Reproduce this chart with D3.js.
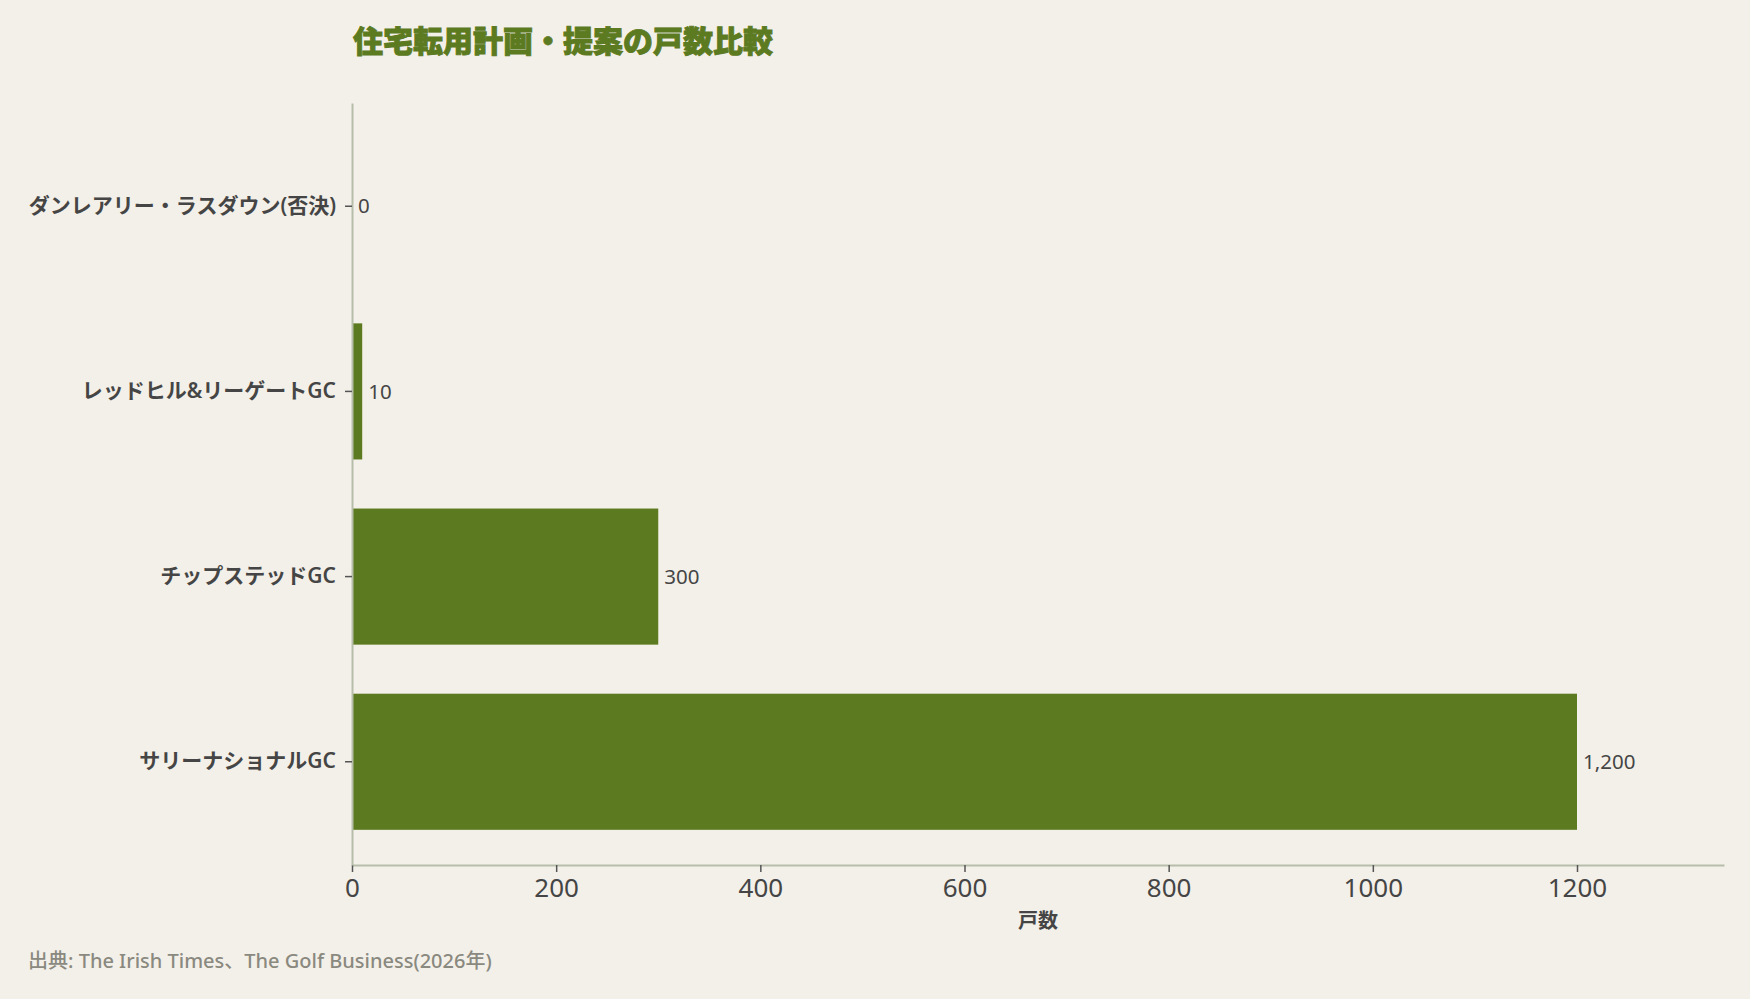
<!DOCTYPE html>
<html>
<head>
<meta charset="utf-8">
<script src="https://cdn.jsdelivr.net/npm/d3@7"></script>
<style>
  html, body { margin: 0; padding: 0; background: #f3f0e9; }
  svg { display: block; font-family: "Noto Sans", "Noto Sans CJK JP", sans-serif; }
</style>
</head>
<body>
<div id="chart"></div>
<script>
// data
const categories = [
    "ダンレアリー・ラスダウン(否決)",
    "レッドヒル&リーゲートGC",
    "チップステッドGC",
    "サリーナショナルGC"
];
const units = [0, 10, 300, 1200];
const xTicks = [0, 200, 400, 600, 800, 1000, 1200];

const titleText = "住宅転用計画・提案の戸数比較";
const xTitle = "戸数";
const sourceText = "出典: The Irish Times、The Golf Business(2026年)";

const data = categories.map((c, i) => ({ name: c, value: units[i] }));

const W = 1750, H = 999;
const margin = { top: 103, right: 26, bottom: 134, left: 352 };
const width = W - margin.left - margin.right;
const height = H - margin.top - margin.bottom;

const green = "#5c7a1f";
const textCol = "#454545";
const axisCol = "#b6bea9";
const fontStack = "\"Noto Sans\", \"Noto Sans CJK JP\", sans-serif";

const svg = d3.select("#chart")
    .append("svg")
    .attr("width", W)
    .attr("height", H);

svg.append("rect")
    .attr("width", W)
    .attr("height", H)
    .attr("fill", "#f3f0e9");

const g = svg.append("g")
    .attr("transform", `translate(${margin.left}, ${margin.top})`);

const x = d3.scaleLinear()
    .domain([0, d3.max(units) * 1.12])
    .range([0, width]);

const y = d3.scaleBand()
    .domain(categories)
    .range([0, height])
    .paddingInner(0.265)
    .paddingOuter(0.19);

// bars
g.selectAll(".bar")
    .data(data)
    .enter()
    .append("rect")
    .attr("class", "bar")
    .attr("x", 0)
    .attr("y", d => y(d.name))
    .attr("width", d => x(d.value))
    .attr("height", y.bandwidth())
    .attr("fill", green);

// value labels
g.selectAll(".val")
    .data(data)
    .enter()
    .append("text")
    .attr("class", "val")
    .attr("x", d => x(d.value) + 6)
    .attr("y", d => y(d.name) + y.bandwidth() / 2)
    .attr("dy", "0.35em")
    .attr("fill", textCol)
    .attr("font-size", "20.5px")
    .text(d => d3.format(",")(d.value));

// x axis
const xAxis = g.append("g")
    .attr("transform", `translate(0, ${height})`)
    .call(d3.axisBottom(x).tickValues(xTicks).tickSize(7).tickSizeOuter(0).tickPadding(7).tickFormat(d3.format("d")));
xAxis.select(".domain").attr("stroke", axisCol).attr("stroke-width", 2);
xAxis.selectAll(".tick line").attr("stroke", "#555").attr("stroke-width", 1.5);
xAxis.selectAll(".tick text")
    .attr("fill", textCol)
    .attr("font-size", "26px")
    .attr("font-family", fontStack);

// y axis
const yAxis = g.append("g")
    .call(d3.axisLeft(y).tickSize(7).tickSizeOuter(0).tickPadding(9));
yAxis.select(".domain").attr("stroke", axisCol).attr("stroke-width", 2);
yAxis.selectAll(".tick line").attr("stroke", "#555").attr("stroke-width", 1.5);
yAxis.selectAll(".tick text")
    .attr("fill", textCol)
    .attr("font-size", "21px")
    .attr("font-weight", 600)
    .attr("font-family", fontStack);

// titles
svg.append("text")
    .attr("x", margin.left + 1)
    .attr("y", 41)
    .attr("dy", "0.35em")
    .attr("fill", green)
    .attr("stroke", green)
    .attr("stroke-width", 0.9)
    .attr("font-size", "30px")
    .attr("font-weight", 900)
    .text(titleText);

svg.append("text")
    .attr("x", margin.left + width / 2)
    .attr("y", 921)
    .attr("dy", "0.35em")
    .attr("text-anchor", "middle")
    .attr("fill", textCol)
    .attr("font-size", "20px")
    .attr("font-weight", 700)
    .text(xTitle);

svg.append("text")
    .attr("x", 28)
    .attr("y", 961)
    .attr("dy", "0.35em")
    .attr("fill", "#8a897f")
    .attr("font-size", "20px")
    .attr("font-weight", 500)
    .text(sourceText);
</script>
</body>
</html>
